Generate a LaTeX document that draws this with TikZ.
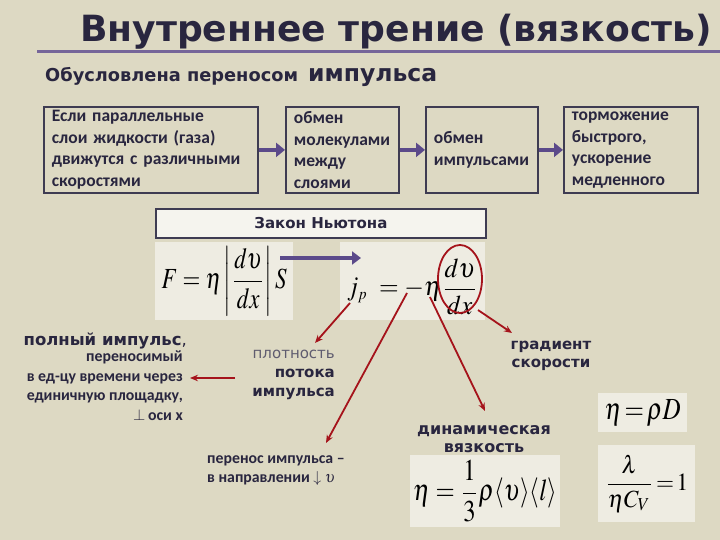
\documentclass[tikz,border=0pt]{standalone}
\usepackage{amsmath}
\usepackage{graphicx}
\usepackage{mathptmx}
\usepackage{fontspec}
\setmainfont{Carlito}
\newfontfamily\headfont{DejaVu Sans}
\usetikzlibrary{arrows.meta,positioning}
\definecolor{bg}{HTML}{DDD9C3}
\definecolor{ink}{HTML}{29263F}
\definecolor{violet}{HTML}{5B4A8A}
\definecolor{rulec}{HTML}{76669A}
\definecolor{redline}{HTML}{A5131B}
\definecolor{paper}{HTML}{EEECE2}
\tikzset{
  stepbox/.style={draw=ink!90, line width=1.8pt, anchor=north west, align=left,
    text=ink, inner xsep=8pt, inner ysep=0pt, minimum height=86pt,
    font=\bfseries\fontsize{17.5}{21.5}\selectfont},
  fbox/.style={fill=paper, anchor=north west, inner sep=0pt},
  pushto/.style={violet, line width=4.5pt, -{Triangle[length=9pt,width=14pt]}},
  pointto/.style={redline, line width=1.8pt, -{Stealth[length=8pt,width=6.5pt]}},
  boldlbl/.style={text=ink, font=\headfont\bfseries\fontsize{15}{18.5}\selectfont, align=center},
  plainlbl/.style={text=ink, font=\bfseries\fontsize{15.8}{19.5}\selectfont}
}
\begin{document}
\begin{tikzpicture}[x=1pt,y=-1pt]
  \fill[bg] (0,0) rectangle (720,540);
  \useasboundingbox (0,0) rectangle (720,540);
  % heading
  \node[text=ink, anchor=base west, inner sep=0pt, font=\headfont\bfseries\fontsize{36.1}{40}\selectfont] (title) at (80,42) {Внутреннее трение (вязкость)};
  \draw[rulec, line width=3pt] (37,52) -- (720,52);
  \node[text=ink, anchor=base west, inner sep=0pt, font=\headfont\bfseries\fontsize{17.8}{20}\selectfont] (subtitle) at (45,82) {Обусловлена переносом};
  \node[text=ink, anchor=base west, inner sep=0pt, font=\headfont\bfseries\fontsize{23.5}{26}\selectfont] (momentum) at (308,82) {импульса};
  % chain of boxes
  \node[stepbox, text width=198pt] (cause) at (43,106) {Если параллельные\\слои жидкости (газа)\\движутся с различными\\скоростями};
  \node[stepbox, text width=97pt] (molex) at (285,106) {обмен\\молекулами\\между\\слоями};
  \node[stepbox, text width=96pt] (impex) at (425,106) {обмен\\импульсами};
  \node[stepbox, text width=118pt] (braking) at (563,106) {торможение\\быстрого,\\ускорение\\медленного};
  \draw[pushto] (cause) -- (molex);
  \draw[pushto] (molex) -- (impex);
  \draw[pushto] (impex) -- (braking);
  % Newton law
  \node[draw=ink!90, line width=1.8pt, fill=paper!60!white, anchor=north west, minimum width=330pt, minimum height=29pt, inner sep=0pt, text=ink, font=\headfont\bfseries\fontsize{15}{17}\selectfont] (law) at (155,208) {Закон Ньютона};
  \node[fbox, minimum width=138pt, minimum height=78pt] (newton) at (155,242) {\resizebox*{125pt}{70pt}{$\displaystyle F=\eta\left|\frac{d\upsilon}{dx}\right|S$}};
  \node[fbox, minimum width=145pt, minimum height=78pt] (flux) at (340,242) {};
  \node[anchor=south west, inner sep=0pt] (fluxf) at (347,315) {\resizebox*{131pt}{56pt}{$\displaystyle j_{\scriptscriptstyle p}\;=-\eta\frac{d\upsilon}{dx}$}};
  \coordinate (fromF) at (280,258);
  \coordinate (toJ) at (361,258);
  \draw[violet, line width=4pt, -{Triangle[length=9pt,width=13pt]}] (fromF) -- (toJ);
  \draw[redline, line width=1.8pt] (460,279) ellipse (22pt and 34pt);
  % labels under the law
  \node[anchor=base east, inner sep=0pt, text=ink, font=\headfont\bfseries\fontsize{16.5}{19}\selectfont] (fullimp) at (187,345) {полный импульс\mdseries,};
  \node[plainlbl, anchor=north east, align=right, inner sep=0pt] (fulltext) at (183,351) {переносимый\\в ед-цу времени через\\единичную площадку,\\$\perp$\,оси x};
  \node[anchor=north east, align=right, inner sep=0pt, text=ink, font=\headfont\fontsize{15}{19}\selectfont] (density) at (335,350) {\color{ink!75}плотность\\\bfseries потока\\\bfseries импульса};
  \node[plainlbl, anchor=north west, align=left, inner sep=0pt] (transfer) at (207,455) {перенос импульса –\\в направлении $\downarrow\upsilon$};
  \node[boldlbl] (gradient) at (551,356) {градиент\\скорости};
  \node[boldlbl, font=\headfont\bfseries\fontsize{16}{18.5}\selectfont] (dynvisc) at (484,439) {динамическая\\вязкость};
  % formulas below
  \node[fbox, minimum width=150pt, minimum height=72pt] (viscf) at (410,455) {\resizebox*{144pt}{62pt}{$\displaystyle \eta=\frac{1}{3}\rho\langle\upsilon\rangle\langle l\rangle$}};
  \node[fbox, minimum width=89pt, minimum height=39pt] (etadiff) at (598,393) {\resizebox*{76pt}{27pt}{$\eta\!=\!\rho D$}};
  \node[fbox, minimum width=97pt, minimum height=77pt] (ratio) at (598,445) {\resizebox*{83pt}{57pt}{$\displaystyle \frac{\lambda}{\eta C_{V}}\!=\!1$}};
  % red pointers
  \coordinate (jp) at (350,303);
  \coordinate (minus) at (407,293);
  \coordinate (eta) at (430,297);
  \coordinate (grad) at (478,310);
  \coordinate (densitytip) at (315,343);
  \coordinate (transfertip) at (326,443);
  \coordinate (dyntip) at (485,411);
  \coordinate (gradtip) at (512,333);
  \coordinate (arrfrom) at (235,378);
  \coordinate (arrto) at (190,378);
  \draw[pointto] (jp) -- (densitytip);
  \draw[pointto] (minus) -- (transfertip);
  \draw[pointto] (eta) -- (dyntip);
  \draw[pointto] (grad) -- (gradtip);
  \draw[pointto] (arrfrom) -- (arrto);
\end{tikzpicture}
\end{document}
